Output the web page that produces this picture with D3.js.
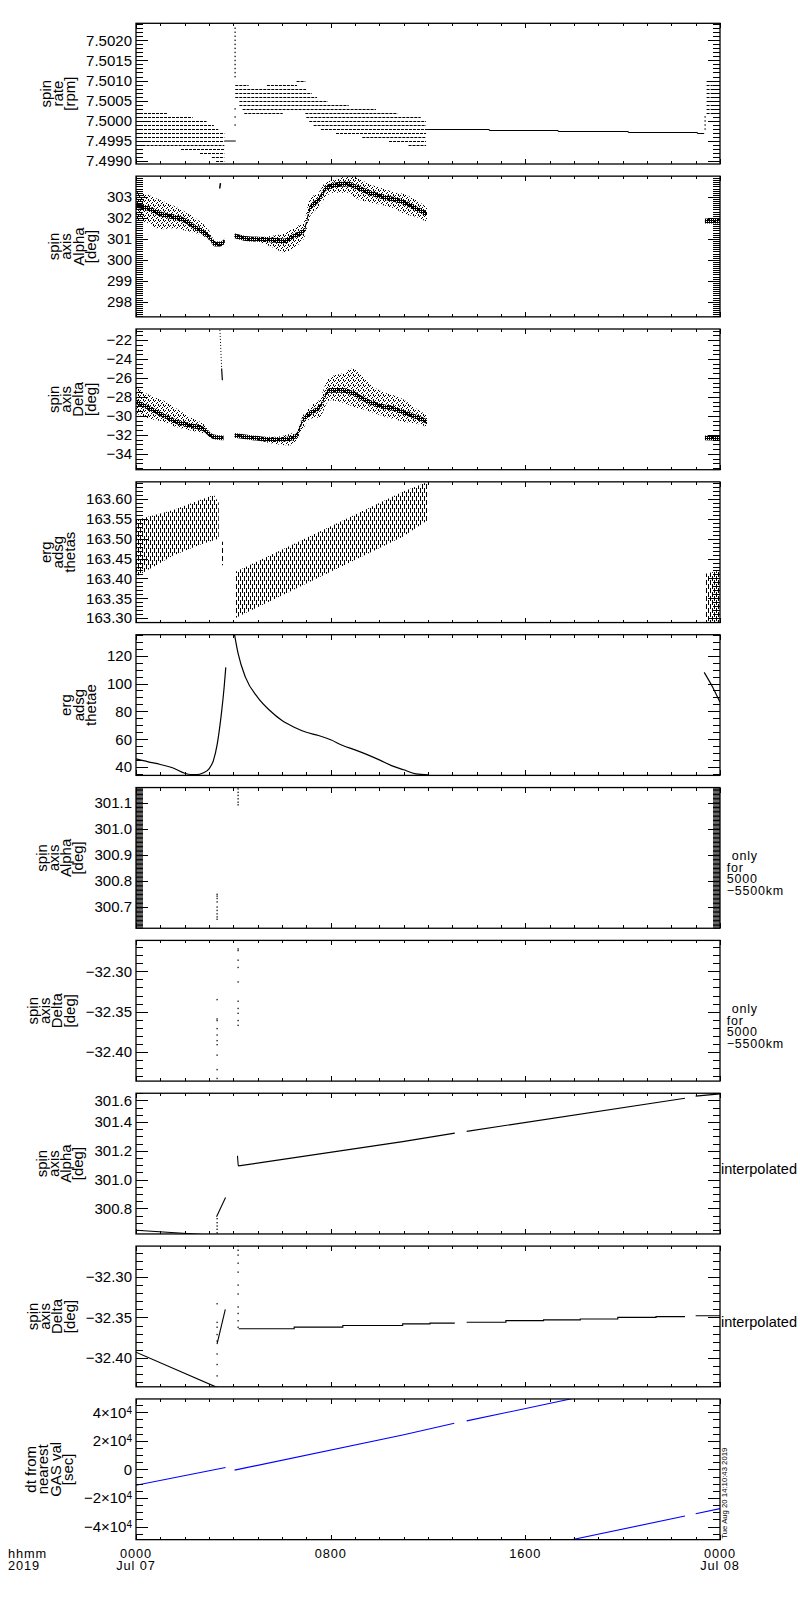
<!DOCTYPE html>
<html lang="en">
<head>
<meta charset="utf-8">
<title>ERG spin axis - 2019 Jul 07</title>
<script src="https://cdn.jsdelivr.net/npm/d3@7"></script>
<style>
  body { margin: 0; background: #fff; }
  text { font-family: "Liberation Sans", Arial, sans-serif; font-size: 15px; fill: #000; }
  .ylab { font-size: 15px; }
  .note { font-size: 12.5px; letter-spacing: 0.8px; }
  .tlab { font-size: 12.8px; letter-spacing: 0.9px; }
  .stamp { font-size: 7.5px; }
  .tick line { stroke: #000; stroke-width: 1; }
</style>
</head>
<body>
<script>
// hours since 2019-07-07 00:00 UT are used as the time unit for all data
var dayStart = Date.UTC(2019, 6, 7);

// ---- panel 1: spin rate, quantised levels [rpm, from h, to h]
var spinLevels = [
  [7.5002, 0, 1.27], [7.5001, 0, 2.33], [7.5000, 0, 2.9], [7.4999, 0, 3.2],
  [7.4998, 0, 3.38], [7.4997, 0, 3.63], [7.4996, 0, 3.63], [7.4995, 0, 3.63],
  [7.4994, 0.27, 3.63], [7.4993, 1.85, 3.63], [7.4992, 2.63, 3.63],
  [7.4991, 3.12, 3.63], [7.4990, 3.29, 3.63],
  [7.5010, 6.6, 6.96], [7.5009, 4.08, 4.63], [7.5009, 5.38, 6.62],
  [7.5008, 4.08, 6.99], [7.5007, 4.08, 7.23], [7.5006, 4.08, 7.44],
  [7.5005, 4.25, 7.88], [7.5004, 4.25, 8.74], [7.5003, 4.38, 9.86],
  [7.5002, 4.45, 6.03], [7.5002, 6.96, 10.75], [7.5001, 7.0, 11.7],
  [7.5000, 7.12, 11.92], [7.4999, 7.3, 11.92], [7.4998, 7.6, 12.0],
  [7.4997, 8.22, 11.92], [7.4996, 9.3, 11.92], [7.4995, 10.4, 11.92],
  [7.4994, 11.2, 11.92],
  [7.5010, 23.45, 23.6], [7.5009, 23.45, 23.7], [7.5008, 23.45, 24],
  [7.5007, 23.45, 24], [7.5006, 23.45, 24], [7.5005, 23.45, 24],
  [7.5004, 23.45, 24], [7.5003, 23.45, 24], [7.5002, 23.45, 24]
];
var spinSolidEarly = [[3.63, 7.4995], [4.1, 7.4995]];
var spinSolidLate = [[12.0, 7.49980], [14.52, 7.49978], [17.35, 7.49975],
  [20.23, 7.49973], [23.07, 7.49970], [23.35, 7.49970]];
var spinJumpA = [7.5023, 7.5022, 7.5021, 7.5020, 7.5019, 7.5018, 7.5017, 7.5016,
  7.5015, 7.5014, 7.5013, 7.5012, 7.5011, 7.5003, 7.5001, 7.4999];   // at 4.08 h
var spinJumpB = [7.4998, 7.4999, 7.5000, 7.5001];                     // at 23.38 h

// ---- panel 2: spin axis alpha, scatter cloud rows [h, core, low, high]
var alphaSegs = [
  [[0, 302.6, 301.9, 303.25], [0.5, 302.45, 301.75, 303.1], [1.0, 302.2, 301.45, 302.85],
   [1.5, 302.05, 301.5, 302.6], [2.0, 301.88, 301.4, 302.3], [2.5, 301.5, 301.25, 301.95],
   [3.0, 301.1, 300.95, 301.4], [3.25, 300.75, 300.65, 300.9], [3.45, 300.75, 300.65, 300.85],
   [3.65, 300.9, 300.82, 301.0]],
  [[4.05, 301.15, 301.05, 301.25], [4.5, 301.02, 300.9, 301.1], [5.0, 300.98, 300.85, 301.08],
   [5.6, 300.95, 300.6, 301.15], [6.1, 300.9, 300.35, 301.25], [6.5, 301.15, 300.6, 301.55],
   [6.9, 301.4, 301.0, 301.8], [7.15, 302.45, 302.05, 302.95], [7.5, 302.85, 302.5, 303.2],
   [7.8, 303.4, 303.0, 303.7], [8.1, 303.55, 303.2, 303.8], [8.7, 303.62, 303.2, 303.98],
   [9.1, 303.45, 302.9, 303.9], [9.6, 303.2, 302.75, 303.6], [10.15, 303.0, 302.6, 303.4],
   [10.7, 302.85, 302.4, 303.2], [11.0, 302.75, 302.2, 303.15], [11.5, 302.45, 302.05, 302.85],
   [11.96, 302.2, 301.8, 302.5]],
  [[23.38, 301.85, 301.75, 301.95], [24, 301.85, 301.75, 301.95]]
];
var alphaMark = [[3.44, 303.4], [3.47, 303.66]];

// ---- panel 3: spin axis delta, scatter cloud rows [h, core, low, high]
var deltaSegs = [
  [[0, -28.5, -29.75, -27.0], [0.55, -29.2, -30.3, -27.8], [1.1, -29.9, -30.6, -28.35],
   [1.65, -30.6, -31.15, -29.2], [2.2, -31.0, -31.5, -30.1], [2.75, -31.35, -31.85, -30.8],
   [3.2, -32.2, -32.35, -32.05], [3.6, -32.3, -32.4, -32.2]],
  [[4.05, -32.05, -32.15, -31.95], [4.8, -32.3, -32.45, -32.15], [5.6, -32.5, -32.9, -32.2],
   [6.3, -32.4, -33.1, -31.9], [6.6, -32.05, -32.6, -31.5], [6.85, -30.5, -31.5, -30.0],
   [7.15, -29.75, -30.3, -29.0], [7.55, -29.05, -30.1, -28.2], [7.95, -27.3, -28.35, -25.9],
   [8.5, -27.3, -28.6, -25.5], [8.9, -27.6, -29.0, -25.0], [9.45, -28.35, -29.4, -26.2],
   [10.0, -28.9, -29.9, -27.3], [10.55, -29.2, -30.3, -27.8], [10.96, -29.6, -30.6, -28.2],
   [11.5, -30.1, -30.8, -29.2], [11.96, -30.6, -31.15, -29.9]],
  [[23.38, -32.3, -32.4, -32.2], [24, -32.35, -32.45, -32.25]]
];
var deltaSpikeDots = [[3.45, -20.94], [3.52, -25.0]];
var deltaSpikeLine = [[3.52, -25.0], [3.55, -26.23]];

// ---- panel 4: erg adsg thetas band rows [h, low, high]
var thetasSegs = [
  [[0, 163.404, 163.547], [1.53, 163.458, 163.572], [2.6, 163.484, 163.597],
   [3.2, 163.496, 163.61], [3.4, 163.50, 163.59]],
  [[3.5, 163.433, 163.492], [3.6, 163.433, 163.492]],
  [[4.07, 163.30, 163.416], [10.96, 163.505, 163.618], [12.0, 163.547, 163.643]],
  [[23.4, 163.29, 163.412], [24, 163.29, 163.42]]
];

// ---- panel 5: erg adsg thetae [h, deg]
var thetaeSegs = [
  [[0, 45.9], [0.5, 43.8], [1, 41.9], [1.5, 39.5], [2, 35.6], [2.25, 34.7], [2.5, 34.6],
   [2.75, 35.8], [3.0, 38.8], [3.18, 44.7], [3.34, 56.7], [3.45, 70], [3.52, 80],
   [3.62, 97], [3.69, 111.6]],
  [[4.05, 135], [4.2, 121.2], [4.5, 104.4], [5, 90.1], [5.5, 80.6], [6, 73.4], [6.5, 68.6],
   [7, 65.0], [7.5, 62.7], [8, 59.6], [8.5, 55.5], [9, 52.4], [9.5, 49.0], [10, 45.2],
   [10.5, 41.1], [11, 38.1], [11.5, 35.2], [12, 34.5]],
  [[23.35, 108], [23.7, 97.3], [24, 86.5]]
];

// ---- panels 6/7: alpha & delta only for 5000-5500 km [h, deg]
var alphaNear = [[3.31, 300.749], [3.31, 300.742], [3.31, 300.733], [3.31, 300.720],
  [3.31, 300.700], [3.31, 300.687], [3.31, 300.674], [3.31, 300.662], [3.31, 300.653],
  [4.2, 301.155], [4.2, 301.142], [4.2, 301.130], [4.2, 301.117], [4.2, 301.104], [4.2, 301.094]];
var deltaNear = [[3.31, -32.335], [3.31, -32.359], [3.31, -32.361], [3.31, -32.371],
  [3.31, -32.379], [3.31, -32.386], [3.31, -32.391], [3.31, -32.404], [3.31, -32.422],
  [3.31, -32.433],
  [4.2, -32.272], [4.2, -32.274], [4.2, -32.286], [4.2, -32.295], [4.2, -32.313],
  [4.2, -32.337], [4.2, -32.346], [4.2, -32.352], [4.2, -32.361], [4.2, -32.367]];

// ---- panel 8: interpolated alpha [h, deg]
var alphaInterp = [
  [[0, 300.648], [2.83, 300.617]],
  [[3.31, 300.742], [3.68, 300.876]],
  [[4.17, 301.165], [4.2, 301.10], [4.22, 301.095], [10.96, 301.264], [13.1, 301.323]],
  [[13.59, 301.335], [22.56, 301.565]],
  [[23.0, 301.58], [24, 301.596]]
];
var alphaInterpDots = [[3.31, 300.729], [3.31, 300.701], [3.31, 300.678], [3.31, 300.655], [3.31, 300.631]];

// ---- panel 9: interpolated delta [h, deg]
var deltaInterp = [
  [[0, -32.393], [3.3, -32.436]],
  [[3.33, -32.383], [3.67, -32.340]],
  [[4.22, -32.364], [6.5, -32.362], [8.5, -32.360], [10.96, -32.358], [12.08, -32.357], [13.1, -32.357]],
  [[13.59, -32.356], [15.2, -32.354], [16.75, -32.353], [18.26, -32.352], [19.8, -32.350],
   [21.37, -32.349], [22.56, -32.349]],
  [[23.0, -32.348], [24, -32.348]]
];
var deltaInterpDots = [[3.31, -32.333], [3.31, -32.356], [3.31, -32.362], [3.31, -32.371],
  [3.31, -32.379], [3.31, -32.395], [3.31, -32.408], [3.31, -32.422], [3.31, -32.436],
  [4.2, -32.262], [4.2, -32.267], [4.2, -32.273], [4.2, -32.283], [4.2, -32.294],
  [4.2, -32.310], [4.2, -32.321], [4.2, -32.337], [4.2, -32.345], [4.2, -32.354], [4.2, -32.362]];

// ---- panel 10: dt from nearest GAS value [h, s]
var dtSegs = [
  [[0, -11055], [3.68, 1408]],
  [[4.05, -493], [10.96, 24154], [13.08, 32393]],
  [[13.59, 34013], [17.95, 49700]],
  [[17.95, -49100], [22.56, -32670]],
  [[23.0, -31000], [24, -27470]]
];

// ---- axis set-up per panel
var yLabels = [
  ["spin", "rate", "[rpm]"],
  ["spin", "axis", "Alpha", "[deg]"],
  ["spin", "axis", "Delta", "[deg]"],
  ["erg", "adsg", "thetas"],
  ["erg", "adsg", "thetae"],
  ["spin", "axis", "Alpha", "[deg]"],
  ["spin", "axis", "Delta", "[deg]"],
  ["spin", "axis", "Alpha", "[deg]"],
  ["spin", "axis", "Delta", "[deg]"],
  ["dt from", "nearest", "GAS val", "[sec]"]
];
var yDomains = [
  [7.49893, 7.50242], [297.28, 303.99], [-35.66, -20.84], [163.289, 163.643],
  [34.05, 135.05], [300.618, 301.16], [-32.4364, -32.2615], [300.622, 301.60],
  [-32.4356, -32.262], [-49200, 49400]
];
var yTicks = [
  [7.4990, 7.4995, 7.5000, 7.5005, 7.5010, 7.5015, 7.5020],
  [298, 299, 300, 301, 302, 303],
  [-34, -32, -30, -28, -26, -24, -22],
  [163.30, 163.35, 163.40, 163.45, 163.50, 163.55, 163.60],
  [40, 60, 80, 100, 120],
  [300.7, 300.8, 300.9, 301.0, 301.1],
  [-32.40, -32.35, -32.30],
  [300.8, 301.0, 301.2, 301.4, 301.55],
  [-32.40, -32.35, -32.30],
  [-40000, -20000, 0, 20000, 40000]
];
var yMinor = [0.0001, 0.1, 0.5, 0.01, 5, 0.005, 0.01, 0.05, 0.01, 5000];
var yFormats = [".4f", "d", "d", ".2f", "d", ".1f", ".2f", ".1f", ".2f", "d"];
var rightNotes = [null, null, null, null, null,
  [" only", "for", "5000", "\u22125500km"], [" only", "for", "5000", "\u22125500km"],
  ["interpolated"], ["interpolated"], null];

var left = 136, right = 720, top0 = 23.3, pitch = 152.85, ph = 140.7;

var svg = d3.select("body").append("svg").attr("width", 800).attr("height", 1600);
var defs = svg.append("defs");

function hour(h) { return new Date(dayStart + h * 3600e3); }
var x = d3.scaleUtc().domain([hour(0), hour(24)]).range([left, right]);
function hx(h) { return x(hour(h)); }

// scatter-like fills
function pattern(id, w, h, cells) {
  var p = defs.append("pattern").attr("id", id).attr("patternUnits", "userSpaceOnUse")
    .attr("width", w).attr("height", h);
  cells.forEach(function(c) {
    p.append("rect").attr("x", c[0]).attr("y", c[1]).attr("width", 1).attr("height", c[2] || 1)
      .attr("fill", "#000").attr("shape-rendering", "crispEdges");
  });
}
pattern("halo", 5, 5, [[0, 0], [2, 2], [4, 1], [3, 4], [1, 3], [3, 0]]);
pattern("core", 2, 2, [[0, 0], [1, 1], [1, 0]]);
pattern("hatch", 4, 8, [[0, 0, 5], [2, 4, 4], [2, 0, 1]]);

var hourTicks = d3.range(0, 25).map(hour);
var majorHours = [0, 8, 16, 24].map(hour);

var panels = [];
yDomains.forEach(function(dom, i) {
  var top = top0 + i * pitch, bot = top + ph;
  var y = d3.scaleLinear().domain(dom).range([bot, top]);
  var g = svg.append("g");
  defs.append("clipPath").attr("id", "clip" + i).append("rect")
    .attr("x", left).attr("y", top).attr("width", right - left).attr("height", ph);
  var plot = g.append("g").attr("clip-path", "url(#clip" + i + ")");

  var step = yMinor[i];
  var k0 = Math.ceil(dom[0] / step - 1e-6), k1 = Math.floor(dom[1] / step + 1e-6);
  var minorVals = d3.range(k0, k1 + 1).map(function(k) { return k * step; });
  var dense = Math.abs(y(step) - y(0)) < 2;

  var fmt = d3.format(yFormats[i]);
  var leftMinor = g.append("g").attr("transform", "translate(" + left + ",0)")
    .call(d3.axisLeft(y).tickValues(minorVals).tickSizeInner(-7).tickSizeOuter(0).tickFormat(""));
  var leftMajor = g.append("g").attr("transform", "translate(" + left + ",0)")
    .call(d3.axisLeft(y).tickValues(yTicks[i]).tickSizeInner(-12).tickSizeOuter(0)
      .tickPadding(4).tickFormat(fmt));
  var rightMinor = g.append("g").attr("transform", "translate(" + right + ",0)")
    .call(d3.axisRight(y).tickValues(minorVals).tickSizeInner(-7).tickSizeOuter(0).tickFormat(""));
  g.append("g").attr("transform", "translate(" + right + ",0)")
    .call(d3.axisRight(y).tickValues(yTicks[i]).tickSizeInner(-12).tickSizeOuter(0).tickFormat(""));

  g.append("g").attr("transform", "translate(0," + bot + ")")
    .call(d3.axisBottom(x).tickValues(hourTicks).tickSizeInner(-3).tickSizeOuter(0).tickFormat(""));
  g.append("g").attr("transform", "translate(0," + bot + ")")
    .call(d3.axisBottom(x).tickValues(majorHours).tickSizeInner(-5).tickSizeOuter(0).tickFormat(""));
  g.append("g").attr("transform", "translate(0," + top + ")")
    .call(d3.axisTop(x).tickValues(hourTicks).tickSizeInner(-3).tickSizeOuter(0).tickFormat(""));
  g.append("g").attr("transform", "translate(0," + top + ")")
    .call(d3.axisTop(x).tickValues(majorHours).tickSizeInner(-5).tickSizeOuter(0).tickFormat(""));

  g.selectAll(".domain").remove();
  g.selectAll("g").attr("font-family", null).attr("font-size", null);
  g.selectAll(".tick line").attr("shape-rendering", "crispEdges");
  if (dense) {
    [leftMinor, rightMinor].forEach(function(a) {
      a.selectAll(".tick line").attr("shape-rendering", null).attr("stroke-width", 0.8);
    });
  }

  // exponent labels for dt panel
  if (i === 9) {
    leftMajor.selectAll(".tick text").each(function(d) {
      if (d === 0) return;
      var t = d3.select(this).text(null);
      t.append("tspan").text((d < 0 ? "\u2212" : "") + Math.abs(d / 1e4) + "\u00d710");
      t.append("tspan").attr("dy", "-0.4em").attr("font-size", "10px").text("4");
    });
  }

  g.append("rect").attr("x", left).attr("y", top).attr("width", right - left).attr("height", ph)
    .attr("fill", "none").attr("stroke", "#000").attr("stroke-width", 1.3);

  // stacked, rotated y label just left of the tick labels
  var bb = leftMajor.node().getBBox();
  var lines = yLabels[i], gap = 12.3;
  var lastBase = left + bb.x - 11;
  var lg = g.append("g").attr("transform",
    "translate(" + (lastBase - (lines.length - 1) * gap) + "," + (top + ph / 2) + ") rotate(-90)");
  lines.forEach(function(s, k) {
    lg.append("text").attr("class", "ylab").attr("x", 0).attr("y", k * gap)
      .attr("text-anchor", "middle").text(s);
  });

  // note to the right of the panel, one text element with stacked lines
  if (rightNotes[i]) {
    var note = rightNotes[i];
    if (note.length > 1) {
      var nt = g.append("text").attr("class", "note").attr("y", top + 72.5);
      note.forEach(function(s, k) {
        nt.append("tspan").attr("x", right + 6.7 + (s.charAt(0) === " " ? 5 : 0))
          .attr("dy", k === 0 ? 0 : 11.6).text(s.trim());
      });
    } else {
      g.append("text").attr("x", right + 1).attr("y", top + 81)
        .attr("textLength", 76).attr("lengthAdjust", "spacingAndGlyphs").text(note[0]);
    }
  }

  panels.push({ y: y, plot: plot, top: top, bot: bot });
});

function seg(pl, pts, col, w, dash) {
  var line = d3.line().x(function(d) { return hx(d[0]); }).y(function(d) { return pl.y(d[1]); });
  pl.plot.append("path").attr("d", line(pts)).attr("fill", "none")
    .attr("stroke", col || "#000").attr("stroke-width", w || 1)
    .attr("stroke-dasharray", dash || null);
}
function dots(pl, pts) {
  pl.plot.selectAll(null).data(pts).enter().append("rect")
    .attr("x", function(d) { return Math.round(hx(d[0])) - 0.5; })
    .attr("y", function(d) { return pl.y(d[1]) - 0.6; })
    .attr("width", 1.2).attr("height", 1.4).attr("fill", "#000");
}
function cloud(pl, rows, coreHalf) {
  var halo = d3.area().curve(d3.curveMonotoneX)
    .x(function(d) { return hx(d[0]); })
    .y0(function(d) { return pl.y(d[2]); }).y1(function(d) { return pl.y(d[3]); });
  var core = d3.area().curve(d3.curveMonotoneX)
    .x(function(d) { return hx(d[0]); })
    .y0(function(d) { return pl.y(d[1] - coreHalf); }).y1(function(d) { return pl.y(d[1] + coreHalf); });
  pl.plot.append("path").attr("d", halo(rows)).attr("fill", "url(#halo)");
  pl.plot.append("path").attr("d", core(rows)).attr("fill", "url(#core)");
}

// panel 1
var p1 = panels[0];
p1.plot.selectAll(null).data(spinLevels).enter().append("line")
  .attr("x1", function(d) { return hx(d[1]); }).attr("x2", function(d) { return hx(d[2]); })
  .attr("y1", function(d) { return Math.round(p1.y(d[0])) + 0.5; })
  .attr("y2", function(d) { return Math.round(p1.y(d[0])) + 0.5; })
  .attr("stroke", "#000").attr("stroke-width", 1).attr("stroke-dasharray", "3 1");
seg(p1, spinSolidEarly);
var stepLine = d3.line().curve(d3.curveStepAfter)
  .x(function(d) { return hx(d[0]); }).y(function(d) { return Math.round(p1.y(d[1])) + 0.5; });
p1.plot.append("path").attr("d", stepLine(spinSolidLate)).attr("fill", "none").attr("stroke", "#000");
dots(p1, spinJumpA.map(function(v) { return [4.08, v]; }));
dots(p1, spinJumpB.map(function(v) { return [23.38, v]; }));

// panel 2 / 3 clouds
alphaSegs.forEach(function(r) { cloud(panels[1], r, 0.12); });
seg(panels[1], alphaMark, "#000", 1.5);
deltaSegs.forEach(function(r) { cloud(panels[2], r, 0.25); });
seg(panels[2], deltaSpikeDots, "#000", 1, "1 2");
seg(panels[2], deltaSpikeLine, "#000", 1.2);

// panel 4 band
var band = d3.area().x(function(d) { return hx(d[0]); })
  .y0(function(d) { return panels[3].y(d[1]); }).y1(function(d) { return panels[3].y(d[2]); });
thetasSegs.forEach(function(r) {
  panels[3].plot.append("path").attr("d", band(r)).attr("fill", "url(#hatch)");
});

// panel 5 line
var smooth = d3.line().curve(d3.curveMonotoneX)
  .x(function(d) { return hx(d[0]); }).y(function(d) { return panels[4].y(d[1]); });
thetaeSegs.forEach(function(r) {
  panels[4].plot.append("path").attr("d", smooth(r)).attr("fill", "none")
    .attr("stroke", "#000").attr("stroke-width", 1.2);
});

// panels 6 / 7
dots(panels[5], alphaNear);
dots(panels[6], deltaNear);

// panel 8 / 9
alphaInterp.forEach(function(r) { seg(panels[7], r, "#000", 1.1); });
dots(panels[7], alphaInterpDots);
var stepDelta = d3.line().curve(d3.curveStepAfter)
  .x(function(d) { return hx(d[0]); }).y(function(d) { return panels[8].y(d[1]); });
deltaInterp.forEach(function(r, k) {
  if (k < 2) { seg(panels[8], r, "#000", 1.1); return; }
  panels[8].plot.append("path").attr("d", stepDelta(r)).attr("fill", "none")
    .attr("stroke", "#000").attr("stroke-width", 1.1);
});
dots(panels[8], deltaInterpDots);

// panel 10
dtSegs.forEach(function(r) { seg(panels[9], r, "#0000ff", 1.1); });

// time labels under the last panel (two lines in one text element)
var bottom = panels[9].bot;
var hhmm = d3.utcFormat("%H%M"), mday = d3.utcFormat("%b %d");
function twoLine(xpos, anchor, a, b) {
  var t = svg.append("text").attr("class", "tlab").attr("y", bottom + 18.5).attr("text-anchor", anchor);
  t.append("tspan").attr("x", xpos).text(a);
  if (b) t.append("tspan").attr("x", xpos).attr("dy", 12).text(b);
}
majorHours.forEach(function(d) {
  twoLine(x(d), "middle", hhmm(d), d.getUTCHours() === 0 ? mday(d) : null);
});
twoLine(8, "start", "hhmm", "2019");

// creation stamp
svg.append("text").attr("class", "stamp")
  .attr("transform", "translate(727," + (bottom - 1) + ") rotate(-90)")
  .attr("textLength", 91).attr("lengthAdjust", "spacingAndGlyphs")
  .text("Tue Aug 20 14:10:43 2019");
</script>
</body>
</html>
